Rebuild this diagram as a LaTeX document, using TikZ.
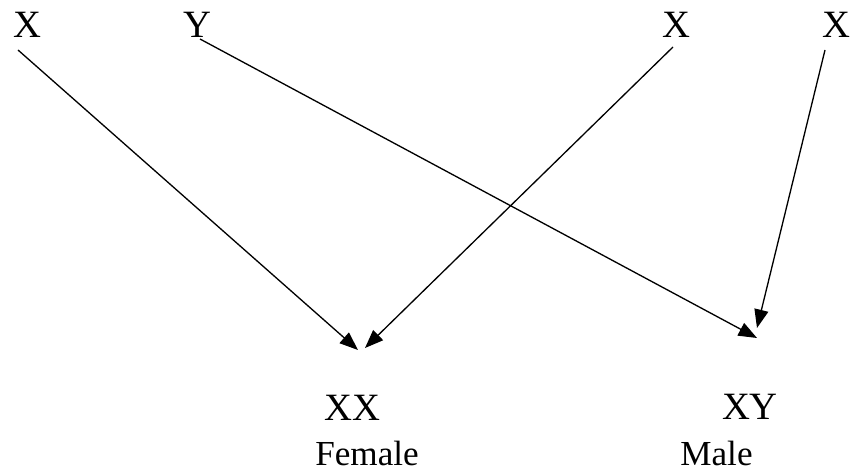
\documentclass[tikz,border=0pt]{standalone}
\usepackage{fontspec}
\setmainfont{Liberation Serif}
\usetikzlibrary{arrows.meta}
\tikzset{
  gene/.style={anchor=base,inner sep=0pt,font=\fontsize{22}{26}\selectfont},
  sexlabel/.style={anchor=base,inner sep=0pt,font=\fontsize{20}{24}\selectfont},
  cross/.style={line width=0.75pt,-{Triangle[length=10.5pt,width=8pt]}}
}
\begin{document}
\begin{tikzpicture}[x=1cm,y=1cm]
\path[use as bounding box] (0,0) rectangle (17.02,9.46);
% parents
\node[gene] (x1) at (0.55,8.70) {X};
\node[gene] (y1) at (3.94,8.70) {Y};
\node[gene] (x2) at (13.52,8.70) {X};
\node[gene] (x3) at (16.72,8.70) {X};
% offspring
\node[gene] (xx) at (7.05,1.06) {XX};
\node[gene] (xy) at (15.00,1.08) {XY};
\node[sexlabel] (female) at (7.34,0.16) {Female};
\node[sexlabel] (male) at (14.33,0.16) {Male};
% crosses
\draw[cross] ([shift={(-0.19,-0.24)}]x1.base) -- ([shift={(0.11,1.40)}]xx.base);
\draw[cross] ([shift={(0.06,-0.02)}]y1.base) -- ([shift={(0.14,1.62)}]xy.base);
\draw[cross] ([shift={(-0.06,-0.18)}]x2.base) -- ([shift={(0.25,1.44)}]xx.base);
\draw[cross] ([shift={(-0.22,-0.24)}]x3.base) -- ([shift={(0.14,1.82)}]xy.base);
\end{tikzpicture}
\end{document}
